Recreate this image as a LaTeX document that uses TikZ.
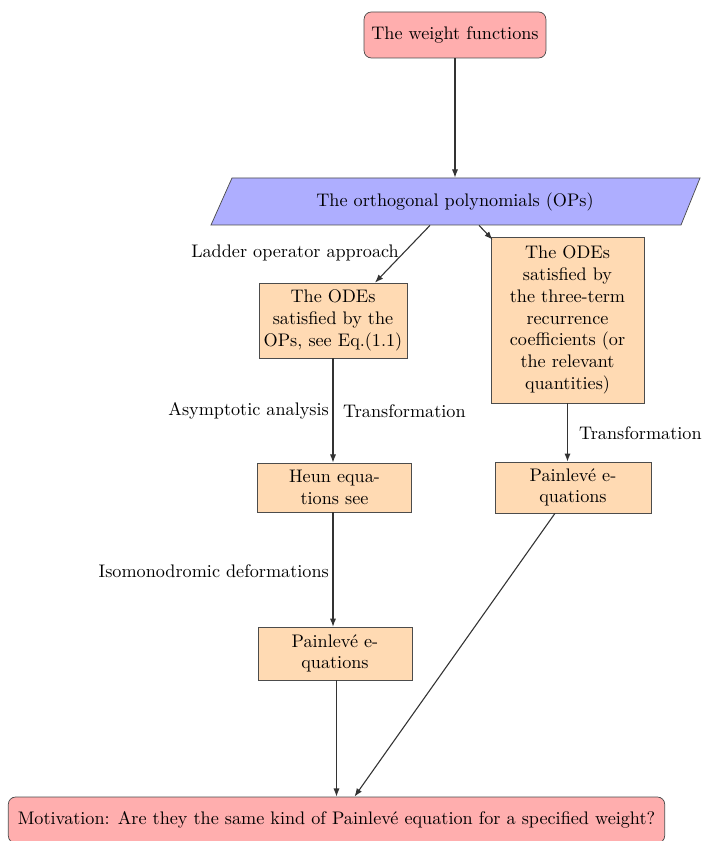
\documentclass[tikz,border=0pt]{standalone}
\usetikzlibrary{arrows.meta,calc}
\definecolor{pinkfill}{RGB}{255,174,174}
\definecolor{bluefill}{RGB}{174,174,255}
\definecolor{orangefill}{RGB}{255,218,179}
\begin{document}
\begin{tikzpicture}[x=0.55pt,y=-0.55pt,
  pinkbox/.style={draw=black!70,fill=pinkfill,rounded corners=4pt,minimum height=25.3pt,inner xsep=3pt},
  orbox/.style={draw=black!70,fill=orangefill,align=center,text width=80pt,inner xsep=0.5pt,inner ysep=3.3pt},
  lbl/.style={inner sep=1pt},
  arr/.style={draw=black!80,line width=0.6pt,-{Latex[length=4.5pt,width=3.4pt]}}]
\clip (0,0) rectangle (704,841);
\useasboundingbox (0,0) rectangle (704,841);

% nodes
\node[pinkbox,minimum width=100pt] (weight) at (455,35) {The weight functions};

\fill[bluefill,draw=black!70] (232,178) -- (700,178) -- (681,225) -- (211,225) -- cycle;
\node[minimum height=25.85pt,inner sep=0pt] (ops) at (455,201.5) {The orthogonal polynomials (OPs)};

\node[orbox,minimum width=81.4pt,minimum height=41.25pt] (odesa) at (333,320.5)
  {The ODEs\\ satisfied by the\\ OPs, see Eq.(1.1)};
\node[orbox,minimum width=84.2pt,minimum height=91.3pt] (odesb) at (567.5,320)
  {The ODEs\\ satisfied by\\ the three-term\\ recurrence\\ coefficients (or\\ the relevant\\ quantities)};

\node[orbox,minimum width=84.7pt,minimum height=27pt] (heun) at (334.5,487.5)
  {Heun equa-\\ tions see};
\node[orbox,minimum width=85.8pt,minimum height=28pt] (painb) at (573,487.5)
  {Painlev\'e e-\\ quations};
\node[orbox,minimum width=84.7pt,minimum height=29pt] (paina) at (335,653.5)
  {Painlev\'e e-\\ quations};

\node[pinkbox,minimum width=361pt] (motiv) at (336.5,820)
  {Motivation: Are they the same kind of Painlev\'e equation for a specified weight?};

% labels
\node[lbl,anchor=east] (lladder) at (401,253) {Ladder operator approach};
\node[lbl,anchor=east] (lasym) at (331,411) {Asymptotic analysis};
\node[lbl,anchor=west] (ltransa) at (341,411) {Transformation};
\node[lbl,anchor=west] (ltransb) at (577,433) {Transformation};
\node[lbl,anchor=east] (liso) at (331,571) {Isomonodromic deformations};

% connectors
\draw[arr] (weight.south) -- (weight.south |- ops.north);
\draw[arr] ($(ops.south)+(-25,0)$) -- ($(odesa.north)+(42,0)$);
\draw[arr] ($(ops.south)+(24,0)$) -- ($(odesb.north west)+(2,3)$);
\draw[arr] (odesa.south) -- (odesa.south |- heun.north);
\draw[arr] (odesb.south) -- (odesb.south |- painb.north);
\draw[arr] (heun.south -| odesa.south) -- (odesa.south |- paina.north);
\draw[arr] (motiv.north |- paina.south) -- (motiv.north);
\draw[arr] ($(painb.south)+(-18,0)$) -- ($(motiv.north)+(18,0)$);
\end{tikzpicture}
\end{document}
